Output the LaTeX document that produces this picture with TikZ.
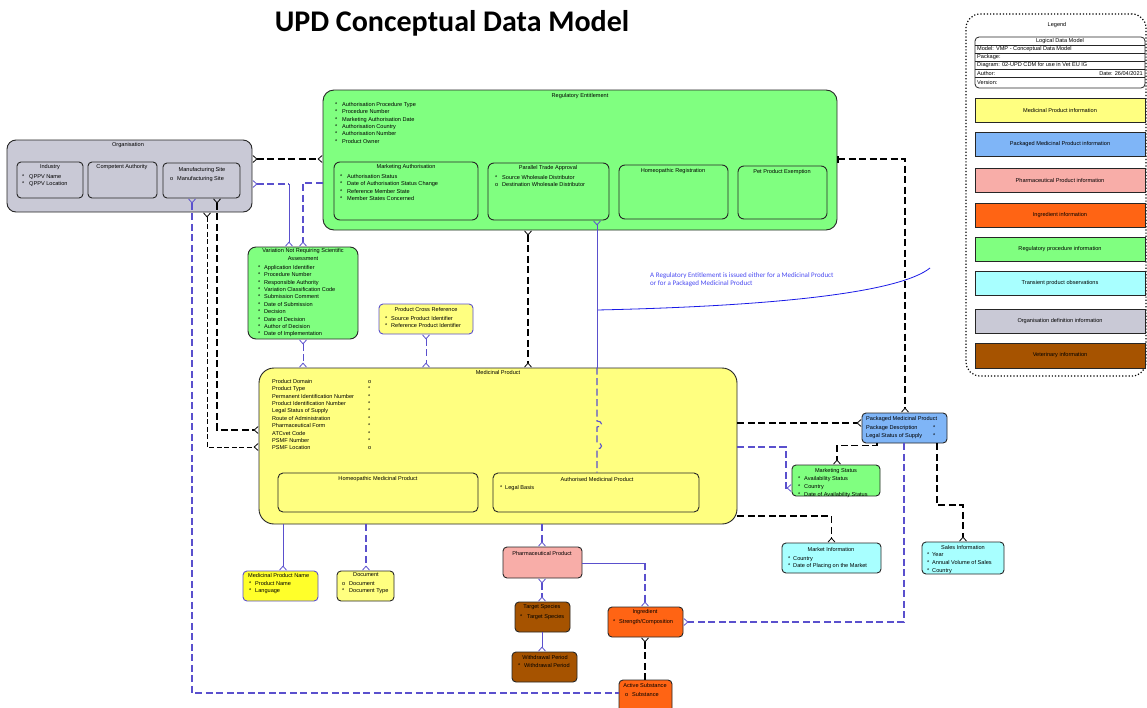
\documentclass[tikz,border=0pt]{standalone}
\usepackage{fontspec}
\setmainfont{Liberation Sans}
\newfontfamily\calib{Carlito}
\usetikzlibrary{arrows.meta,fit}
\definecolor{cYel}{HTML}{FFFF80}
\definecolor{cYel2}{HTML}{FFFF2A}
\definecolor{cBlu}{HTML}{7FB5F7}
\definecolor{cPnk}{HTML}{F8ADA8}
\definecolor{cOrg}{HTML}{FF6414}
\definecolor{cGrn}{HTML}{80FF80}
\definecolor{cCyn}{HTML}{A8FFFF}
\definecolor{cGry}{HTML}{C9C9D6}
\definecolor{cBrn}{HTML}{A65300}
\definecolor{lblue}{HTML}{5A50CD}
\definecolor{ntxt}{HTML}{4A4AF0}
\definecolor{ncrv}{HTML}{1A1AE6}
\newcommand\ea[3][7pt]{\makebox[#1][l]{#2}#3}
\tikzset{
 ent/.style={draw=black!85, line width=0.9pt, rounded corners=5pt, inner sep=0pt},
 ttl/.style={font=\fontsize{5.6}{7.4}\selectfont, inner sep=0pt, text=black},
 att/.style={font=\fontsize{5.6}{7.4}\selectfont, inner sep=0pt, align=left, anchor=north west, text=black},
 legbox/.style={draw=black!85, line width=0.9pt, inner sep=0pt},
 crow/.tip={Straight Barb[reversed,length=4pt,width=7pt,line width=0.8pt]},
 blk/.style={draw=black, line width=1.2pt, dash pattern=on 7pt off 3.5pt},
 blkthin/.style={draw=black, line width=0.8pt, dash pattern=on 5pt off 2.5pt},
 blu/.style={draw=lblue, line width=1.1pt, dash pattern=on 7pt off 3.5pt},
 blus/.style={draw=lblue, line width=0.8pt},
}
\begin{document}
\begin{tikzpicture}[x=1pt,y=-1pt]
\useasboundingbox (0,0) rectangle (1147,707);
\clip (0,0) rectangle (1147,707);

% title
\node[font=\calib\bfseries\fontsize{30}{35}\selectfont, inner sep=0] (title) at (452,23) {UPD Conceptual Data Model};

% ---------- Legend ----------
\node[draw=black, line width=1.2pt, dotted, rounded corners=14pt, inner sep=0, fit={(966,14)(1146,376)}] (leg) {};
\node[ttl] (leg-t) at (1057,25) {Legend};
\node[draw=black!85, line width=0.8pt, fill=white, rounded corners=4pt, inner sep=0, fit={(975,37)(1145,88)}] (ldm) {};
\foreach \yy in {45,53,61,69,77} \draw[black!85, line width=0.6pt] (ldm.west |- 0,\yy) -- (ldm.east |- 0,\yy);
\node[ttl] (ldm-t) at (1060,41) {Logical Data Model};
\node[ttl, anchor=west] (ldm-1) at (977,49) {Model: VMP - Conceptual Data Model};
\node[ttl, anchor=west] (ldm-2) at (977,57) {Package:};
\node[ttl, anchor=west] (ldm-3) at (977,65) {Diagram: 02-UPD CDM for use in Vet EU IG};
\node[ttl, anchor=west] (ldm-4) at (977,73) {Author:};
\node[ttl, anchor=east] (ldm-5) at (1143,73) {Date: 26/04/2021};
\node[ttl, anchor=west] (ldm-6) at (977,82) {Version:};

\node[legbox, fill=cYel, fit={(975,98)(1145,122)}] (lg1) {};
\node[ttl] (lg1-t) at (lg1) {Medicinal Product information};
\node[legbox, fill=cBlu, fit={(975,132)(1145,156)}] (lg2) {};
\node[ttl] (lg2-t) at (lg2) {Packaged Medicinal Product information};
\node[legbox, fill=cPnk, fit={(975,168)(1145,192)}] (lg3) {};
\node[ttl] (lg3-t) at (lg3) {Pharmaceutical Product information};
\node[legbox, fill=cOrg, fit={(975,203)(1145,227)}] (lg4) {};
\node[ttl] (lg4-t) at (lg4) {Ingredient information};
\node[legbox, fill=cGrn, fit={(975,237)(1145,261)}] (lg5) {};
\node[ttl] (lg5-t) at (lg5) {Regulatory procedure information};
\node[legbox, fill=cCyn, fit={(975,271)(1145,295)}] (lg6) {};
\node[ttl] (lg6-t) at (lg6) {Transient product observations};
\node[legbox, fill=cGry, fit={(975,309)(1145,333)}] (lg7) {};
\node[ttl] (lg7-t) at (lg7) {Organisation definition information};
\node[legbox, fill=cBrn, fit={(975,343)(1145,368)}] (lg8) {};
\node[ttl] (lg8-t) at (lg8) {Veterinary information};

% ---------- Organisation ----------
\node[ent, fill=cGry, rounded corners=9pt, fit={(7,140)(252,212)}] (org) {};
\node[ttl] (org-t) at (128,145) {Organisation};
\node[ent, fill=cGry, rounded corners=4pt, fit={(17,162)(83,198)}] (ind) {};
\node[ttl] (ind-t) at (50,167) {Industry};
\node[att] (ind-a) at (22,174) {\ea{*}{QPPV Name}\\\ea{*}{QPPV Location}};
\node[ent, fill=cGry, rounded corners=4pt, fit={(88,162)(157,198)}] (ca) {};
\node[ttl] (ca-t) at (122,167) {Competent Authority};
\node[ent, fill=cGry, rounded corners=4pt, fit={(163,163)(240,198)}] (ms) {};
\node[ttl] (ms-t) at (202,170) {Manufacturing Site};
\node[att] (ms-a) at (170,176) {\ea{o}{Manufacturing Site}};

% ---------- Regulatory Entitlement ----------
\node[ent, fill=cGrn, rounded corners=11pt, fit={(323,90)(837,230)}] (re) {};
\node[ttl] (re-t) at (580,96) {Regulatory Entitlement};
\node[att] (re-a) at (335,102) {\ea{*}{Authorisation Procedure Type}\\\ea{*}{Procedure Number}\\\ea{*}{Marketing Authorisation Date}\\\ea{*}{Authorisation Country}\\\ea{*}{Authorisation Number}\\\ea{*}{Product Owner}};
\node[ent, fill=cGrn, rounded corners=6pt, fit={(334,162)(478,220)}] (ma) {};
\node[ttl] (ma-t) at (406,167) {Marketing Authorisation};
\node[att] (ma-a) at (340,174) {\ea{*}{Authorisation Status}\\\ea{*}{Date of Authorisation Status Change}\\\ea{*}{Reference Member State}\\\ea{*}{Member States Concerned}};
\node[ent, fill=cGrn, rounded corners=6pt, fit={(488,163)(609,220)}] (pta) {};
\node[ttl] (pta-t) at (548,168) {Parallel Trade Approval};
\node[att] (pta-a) at (495,175) {\ea{*}{Source Wholesale Distributor}\\\ea{o}{Destination Wholesale Distributor}};
\node[ent, fill=cGrn, rounded corners=6pt, fit={(619,165)(728,219)}] (hr) {};
\node[ttl] (hr-t) at (673,171) {Homeopathic Registration};
\node[ent, fill=cGrn, rounded corners=6pt, fit={(738,166)(827,219)}] (ppe) {};
\node[ttl] (ppe-t) at (782,172) {Pet Product Exemption};

% ---------- Variation ----------
\node[ent, fill=cGrn, rounded corners=8pt, fit={(248,247)(358,339)}] (var) {};
\node[ttl, align=center] (var-t) at (303,254.5) {Variation Not Requiring Scientific\\Assessment};
\node[att] (var-a) at (258,265) {\ea[6pt]{*}{Application Identifier}\\\ea[6pt]{*}{Procedure Number}\\\ea[6pt]{*}{Responsible Authority}\\\ea[6pt]{*}{Variation Classification Code}\\\ea[6pt]{*}{Submission Comment}\\\ea[6pt]{*}{Date of Submission}\\\ea[6pt]{*}{Decision}\\\ea[6pt]{*}{Date of Decision}\\\ea[6pt]{*}{Author of Decision}\\\ea[6pt]{*}{Date of Implementation}};

% ---------- Product Cross Reference ----------
\node[ent, fill=cYel, draw=lblue, rounded corners=4pt, fit={(379,304)(473,334)}] (pcr) {};
\node[ttl] (pcr-t) at (426,309) {Product Cross Reference};
\node[att] (pcr-a) at (385,316) {\ea[6pt]{*}{Source Product Identifier}\\\ea[6pt]{*}{Reference Product Identifier}};

% ---------- Medicinal Product ----------
\node[ent, fill=cYel, rounded corners=15pt, fit={(259,368)(737,524)}] (mp) {};
\node[ttl] (mp-t) at (498,372) {Medicinal Product};
\node[att] (mp-a) at (272,379) {\ea[96pt]{Product Domain}{o}\\\ea[96pt]{Product Type}{*}\\\ea[96pt]{Permanent Identification Number}{*}\\\ea[96pt]{Product Identification Number}{*}\\\ea[96pt]{Legal Status of Supply}{*}\\\ea[96pt]{Route of Administration}{*}\\\ea[96pt]{Pharmaceutical Form}{*}\\\ea[96pt]{ATCvet Code}{*}\\\ea[96pt]{PSMF Number}{*}\\\ea[96pt]{PSMF Location}{o}};
\node[ent, fill=cYel, rounded corners=5pt, fit={(278,473)(478,512)}] (hmp) {};
\node[ttl] (hmp-t) at (378,479) {Homeopathic Medicinal Product};
\node[ent, fill=cYel, rounded corners=5pt, fit={(493,473)(699,512)}] (amp) {};
\node[ttl] (amp-t) at (597,479) {Authorised Medicinal Product};
\node[att] (amp-a) at (500,485) {\ea[5pt]{*}{Legal Basis}};

% ---------- Packaged Medicinal Product ----------
\node[ent, fill=cBlu, rounded corners=4pt, fit={(862,413)(947,443)}] (pmp) {};
\node[ttl, anchor=west] (pmp-t) at (866,419) {Packaged Medicinal Product};
\node[att, font=\fontsize{5.6}{8}\selectfont] (pmp-a) at (866,425) {\ea[67pt]{Package Description}{*}\\\ea[67pt]{Legal Status of Supply}{*}};

% ---------- Marketing Status ----------
\node[ent, fill=cGrn, rounded corners=4pt, fit={(792,465)(880,496)}] (mks) {};
\node[ttl] (mks-t) at (836,471) {Marketing Status};
\node[att, font=\fontsize{5.6}{8}\selectfont] (mks-a) at (798,476) {\ea[6pt]{*}{Availability Status}\\\ea[6pt]{*}{Country}\\\ea[6pt]{*}{Date of Availability Status}};

% ---------- bottom entities ----------
\node[ent, fill=cYel2, draw=lblue, rounded corners=4pt, fit={(243,571)(318,601)}] (mpn) {};
\node[ttl, anchor=west] (mpn-t) at (248,575) {Medicinal Product Name};
\node[att] (mpn-a) at (249,581) {\ea[6pt]{*}{Product Name}\\\ea[6pt]{*}{Language}};
\node[ent, fill=cYel, rounded corners=4pt, fit={(337,571)(394,601)}] (doc) {};
\node[ttl] (doc-t) at (366,575) {Document};
\node[att] (doc-a) at (342,581) {\ea{o}{Document}\\\ea{*}{Document Type}};

\node[ent, fill=cPnk, rounded corners=4pt, fit={(503,547)(582,578)}] (php) {};
\node[ttl] (php-t) at (542,553) {Pharmaceutical Product};
\node[ent, fill=cBrn, rounded corners=4pt, fit={(515,602)(570,632)}] (ts) {};
\node[ttl] (ts-t) at (542,607) {Target Species};
\node[att] (ts-a) at (520,614) {\ea{*}{Target Species}};
\node[ent, fill=cBrn, rounded corners=4pt, fit={(512,652)(577,682)}] (wp) {};
\node[ttl] (wp-t) at (545,657) {Withdrawal Period};
\node[att] (wp-a) at (518,663) {\ea[6pt]{*}{Withdrawal Period}};
\node[ent, fill=cOrg, rounded corners=4pt, fit={(608,607)(683,637)}] (ing) {};
\node[ttl] (ing-t) at (645,612) {Ingredient};
\node[att] (ing-a) at (613,619) {\ea[6pt]{*}{Strength/Composition}};
\node[ent, fill=cOrg, rounded corners=4pt, fit={(619,680)(672,712)}] (as) {};
\node[ttl] (as-t) at (645,685) {Active Substance};
\node[att] (as-a) at (625,692) {\ea{o}{Substance}};

\node[ent, fill=cCyn, rounded corners=4pt, fit={(782,543)(881,573)}] (mi) {};
\node[ttl] (mi-t) at (831,549) {Market Information};
\node[att] (mi-a) at (788,556) {\ea[5pt]{*}{Country}\\\ea[5pt]{*}{Date of Placing on the Market}};
\node[ent, fill=cCyn, rounded corners=4pt, fit={(922,542)(1004,574)}] (si) {};
\node[ttl] (si-t) at (963,547) {Sales Information};
\node[att, font=\fontsize{5.6}{8}\selectfont] (si-a) at (927,552) {\ea[5pt]{*}{Year}\\\ea[5pt]{*}{Annual Volume of Sales}\\\ea[5pt]{*}{Country}};

% ---------- annotation ----------
\node[font=\calib\fontsize{7}{8.5}\selectfont, text=ntxt, align=left, anchor=north west, inner sep=0] (note) at (650,272) {A Regulatory Entitlement is issued either for a Medicinal Product\\or for a Packaged Medicinal Product};
\coordinate (n1) at (597,310);
\coordinate (n2) at (930,268);
\draw[ncrv, line width=0.8pt] (n1) .. controls (780,306) and (900,292) .. (n2);

% ---------- connectors ----------
\draw[blk, {crow}-{crow}] (org.east |- 0,159) -- (re.west |- 0,159);
\draw[blu, {crow}-] (org.east |- 0,184) -- (289,184);
\draw[blus, -{crow}] (289,184) -- ([xshift=-14pt]var.north);
\draw[blu, -{crow}] (re.west |- 0,183) -| (var.north);
\draw[blk, {crow}-{crow}] (ms.south -| 217,0) |- (mp.west |- 0,430);
\draw[blkthin, {crow}-{crow}] (org.south -| 207,0) |- (mp.west |- 0,447);
\draw[blu, {crow}-] (ms.south -| 192,0) |- (as.west |- 0,693);
\draw[blu, line width=0.9pt, {crow}-{crow}] (var.south) -- (var.south |- mp.north);
\draw[blu, line width=0.9pt, {crow}-{crow}] (pcr.south) -- (pcr.south |- mp.north);
\draw[blk, {crow}-{crow}] (re.south -| 528,0) -- (mp.north -| 528,0);
\draw[blus, {crow}-] (pta.south -| 597,0) -- (mp.north -| 597,0);
\draw[blu] (mp.north -| 597,0) -- (597,421) .. controls (603,421) and (603,427) .. (597,427) -- (597,443) .. controls (603,443) and (603,449) .. (597,449) -- (amp.north -| 597,0);
\draw[blk, -{crow}] (mp.east |- 0,423) -- (pmp.west |- 0,423);
\draw[blu, -{crow}] (mp.east |- 0,447) -| (786,488) -- (mks.west |- 0,488);
\draw[blk, -{crow}] (pmp.south -| 877,0) -- ++(0,2) -| (mks.north -| 837,0);
\draw[blk, -{crow}] (pmp.south -| 937,0) -- (937,505) -| (si.north);
\draw[blu, -{crow}] (pmp.south -| 904,0) |- (ing.east |- 0,622);
\draw[blk, {Bar[width=7pt,line width=0.8pt]Bar[width=7pt,line width=0.8pt]}-{crow}] (re.east |- 0,159) -| (pmp.north -| 905,0);
\draw[blk, -{crow}] (mp.east |- 0,516) -| (mi.north);
\draw[blus, -{crow}] (mp.south -| 283,0) -- (mpn.north -| 283,0);
\draw[blu, -{crow}] (mp.south -| 366,0) -- (doc.north -| 366,0);
\draw[blu, -{crow}] (mp.south -| 542,0) -- (php.north -| 542,0);
\draw[blu, {crow}-{crow}] (php.south -| 542,0) -- (ts.north -| 542,0);
\draw[blus, -{crow}] (ts.south -| 542,0) -- (wp.north -| 542,0);
\draw[blus] (php.east |- 0,563) -- (645,563);
\draw[blu, -{crow}] (645,563) -- (ing.north -| 645,0);
\draw[blk, {crow}-] (ing.south -| 645,0) -- (as.north -| 645,0);
\end{tikzpicture}
\end{document}
